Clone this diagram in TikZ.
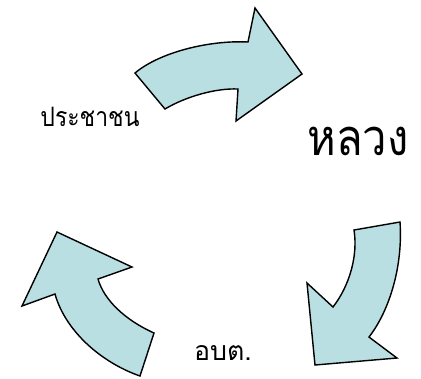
\documentclass[tikz,border=0pt]{standalone}
\usepackage{fontspec}
\usepackage{tikz}
\usetikzlibrary{positioning}
\newfontfamily\thaifont[Script=Thai]{Loma}
\newfontfamily\thainarrow[Script=Thai,FakeStretch=0.86]{Loma}
\definecolor{arrowfill}{HTML}{B9DFE3}
\definecolor{ink}{HTML}{000000}
\tikzset{
  bendarrow/.style={
    draw=ink, fill=arrowfill, line width=1pt, line join=miter
  },
  smalllabel/.style={
    anchor=base, inner sep=0pt, text=ink,
    font=\thaifont\fontsize{19}{22}\selectfont
  },
  biglabel/.style={
    anchor=base, inner sep=0pt, text=ink,
    font=\thainarrow\fontsize{36}{40}\selectfont
  }
}

\begin{document}
\begin{tikzpicture}[x=0.025cm,y=-0.025cm]
  \useasboundingbox (0,0) rectangle (421,378);

  % top arrow, pointing right
  \draw[bendarrow] (135,73) .. controls (160,52) and (210,40) .. (248,42)
    -- (255,8) -- (302,74) -- (236,121) -- (238,89)
    .. controls (215,88) and (185,97) .. (165,109) -- cycle;

  % right arrow, pointing down
  \draw[bendarrow] (400,222) .. controls (403,265) and (390,310) .. (369,337)
    -- (397,358) -- (315,365) -- (307,283) -- (333,307)
    .. controls (350,285) and (358,255) .. (354,230) -- cycle;

  % left arrow, pointing up
  \draw[bendarrow] (140,376) .. controls (100,362) and (65,330) .. (55,294)
    -- (22,306) -- (57,232) -- (132,267) -- (98,279)
    .. controls (104,300) and (125,320) .. (154,333) -- cycle;

  % labels
  \node[smalllabel,font=\thainarrow\fontsize{19}{22}\selectfont] (people) at (90,126) {ประชาชน};
  \node[biglabel] (centre) at (358,155) {หลวง};
  \node[smalllabel] (local) at (223,360) {อบต.};
\end{tikzpicture}
\end{document}
